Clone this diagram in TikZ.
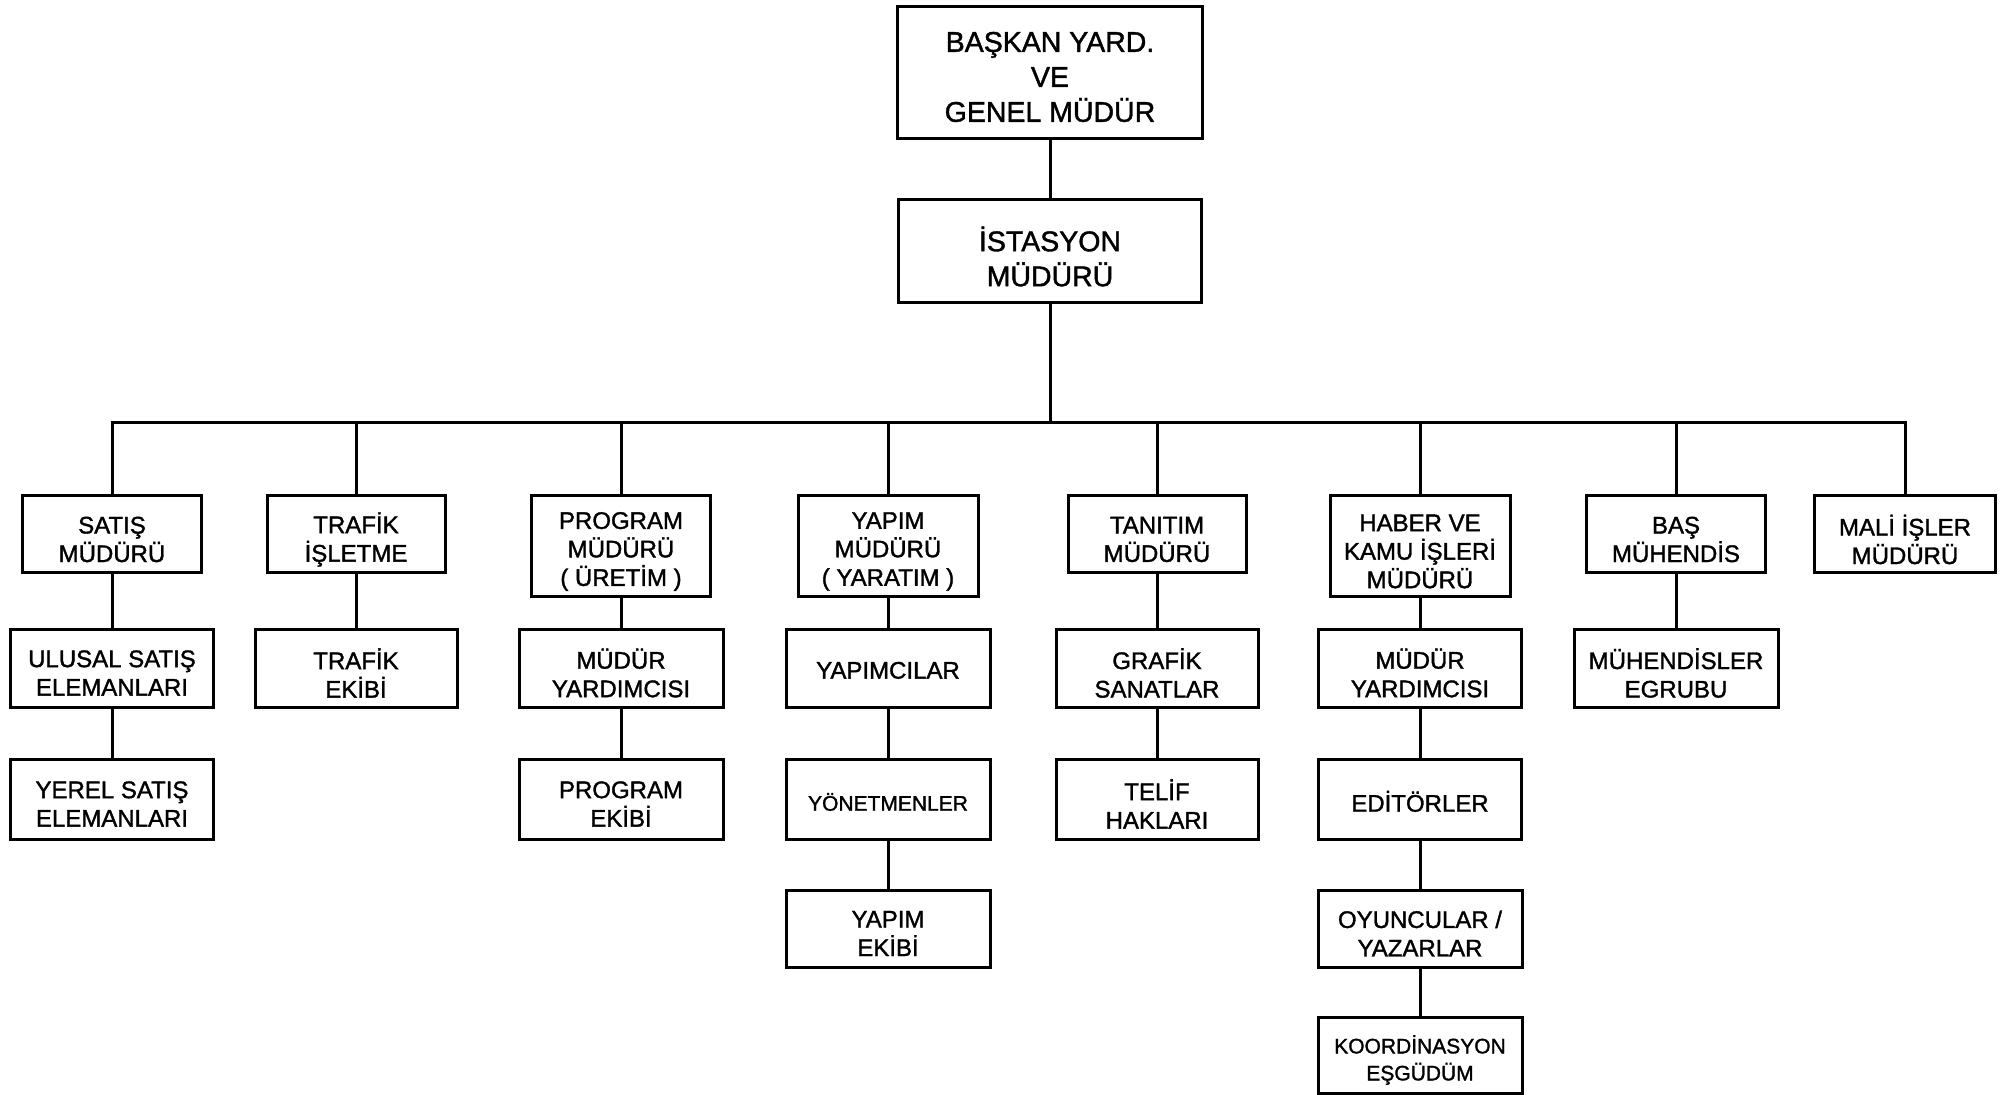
\documentclass[tikz,border=0pt]{standalone}
\usepackage{fontspec}
\setmainfont{Liberation Sans}[BoldFont={Liberation Sans}, BoldFeatures={FakeBold=1.4}]
\begin{document}
\begin{tikzpicture}[x=0.5pt,y=-0.5pt,
  box/.style={draw=black, line width=1.5pt, inner sep=0pt, fill=white},
  bw/.style={minimum width=#1*0.5pt},
  bh/.style={minimum height=#1*0.5pt},
  lbl/.style={align=center, inner sep=0pt, yshift=-2.5pt, font=\fontsize{12}{14.25}\selectfont\bfseries},
  onelbl/.style={align=center, inner sep=0pt, yshift=-1.2pt, font=\fontsize{12}{14.25}\selectfont\bfseries},
  smalllbl/.style={align=center, inner sep=0pt, yshift=-1.5pt, font=\fontsize{10.5}{13.5}\selectfont\bfseries},
  biglbl/.style={align=center, inner sep=0pt, yshift=-2pt, font=\fontsize{14.25}{17.5}\selectfont\bfseries},
  link/.style={line width=1.5pt, line cap=rect}]
\useasboundingbox[fill=white] (0,0) rectangle (2011,1095);

% top management
\node[box,bw=305,bh=132] (gm) at (1050,73) {};
\node[biglbl] (gm-t) at (gm) {BAŞKAN YARD.\\VE\\GENEL MÜDÜR};
\node[box,bw=303,bh=103] (ist) at (1050,251.5) {};
\node[biglbl,yshift=-0.5pt] (ist-t) at (ist) {İSTASYON\\MÜDÜRÜ};

% department heads
\node[box,bw=179,bh=77] (satis) at (112,534.5) {};
\node[lbl] (satis-t) at (satis) {SATIŞ\\MÜDÜRÜ};
\node[box,bw=178,bh=77] (trafik) at (356,534.5) {};
\node[lbl] (trafik-t) at (trafik) {TRAFİK\\İŞLETME};
\node[box,bw=179,bh=101] (program) at (621,546.5) {};
\node[lbl] (program-t) at (program) {PROGRAM\\MÜDÜRÜ\\( ÜRETİM )};
\node[box,bw=180,bh=101] (yapim) at (888,546.5) {};
\node[lbl] (yapim-t) at (yapim) {YAPIM\\MÜDÜRÜ\\( YARATIM )};
\node[box,bw=178,bh=77] (tanitim) at (1157,534.5) {};
\node[lbl] (tanitim-t) at (tanitim) {TANITIM\\MÜDÜRÜ};
\node[box,bw=180,bh=101] (haber) at (1420,546.5) {};
\node[lbl] (haber-t) at (haber) {HABER VE\\KAMU İŞLERİ\\MÜDÜRÜ};
\node[box,bw=179,bh=77] (bas) at (1676,534.5) {};
\node[lbl] (bas-t) at (bas) {BAŞ\\MÜHENDİS};
\node[box,bw=181,bh=77] (mali) at (1905,534.5) {};
\node[lbl] (mali-t) at (mali) {MALİ İŞLER\\MÜDÜRÜ};

% second row
\node[box,bw=203,bh=78] (ulusal) at (112,668) {};
\node[lbl] (ulusal-t) at (ulusal) {ULUSAL SATIŞ\\ELEMANLARI};
\node[box,bw=202,bh=78] (trafikekibi) at (356,668) {};
\node[lbl] (trafikekibi-t) at (trafikekibi) {TRAFİK\\EKİBİ};
\node[box,bw=204,bh=78] (myardA) at (621,668) {};
\node[lbl] (myardA-t) at (myardA) {MÜDÜR\\YARDIMCISI};
\node[box,bw=204,bh=78] (yapimcilar) at (888,668) {};
\node[onelbl] (yapimcilar-t) at (yapimcilar) {YAPIMCILAR};
\node[box,bw=202,bh=78] (grafik) at (1157,668) {};
\node[lbl] (grafik-t) at (grafik) {GRAFİK\\SANATLAR};
\node[box,bw=203,bh=78] (myardB) at (1420,668) {};
\node[lbl] (myardB-t) at (myardB) {MÜDÜR\\YARDIMCISI};
\node[box,bw=204,bh=78] (muh) at (1676,668) {};
\node[lbl] (muh-t) at (muh) {MÜHENDİSLER\\EGRUBU};

% third row
\node[box,bw=203,bh=80] (yerel) at (112,799) {};
\node[lbl] (yerel-t) at (yerel) {YEREL SATIŞ\\ELEMANLARI};
\node[box,bw=204,bh=80] (progekibi) at (621,799) {};
\node[lbl] (progekibi-t) at (progekibi) {PROGRAM\\EKİBİ};
\node[box,bw=204,bh=80] (yonetmen) at (888,799) {};
\node[smalllbl] (yonetmen-t) at (yonetmen) {YÖNETMENLER};
\node[box,bw=202,bh=80] (telif) at (1157,799) {};
\node[lbl] (telif-t) at (telif) {TELİF\\HAKLARI};
\node[box,bw=203,bh=80] (editor) at (1420,799) {};
\node[onelbl] (editor-t) at (editor) {EDİTÖRLER};

% fourth and fifth rows
\node[box,bw=204,bh=77] (yapimekibi) at (888,928.5) {};
\node[lbl] (yapimekibi-t) at (yapimekibi) {YAPIM\\EKİBİ};
\node[box,bw=204,bh=77] (oyuncu) at (1420,928.5) {};
\node[lbl] (oyuncu-t) at (oyuncu) {OYUNCULAR /\\YAZARLAR};
\node[box,bw=204,bh=76] (koord) at (1420,1055) {};
\node[smalllbl,yshift=-1pt] (koord-t) at (koord) {KOORDİNASYON\\EŞGÜDÜM};

% connectors
\coordinate (busL) at (112,423);
\coordinate (busR) at (1905,423);
\draw[link] (gm) -- (ist);
\draw[link] (ist.south) -- (ist.south |- busL);
\draw[link] (busL) -- (busR);
\foreach \n in {satis,trafik,program,yapim,tanitim,haber,bas,mali}
  \draw[link] (\n.north) -- (\n.north |- busL);
\draw[link] (satis) -- (ulusal) -- (yerel);
\draw[link] (trafik) -- (trafikekibi);
\draw[link] (program) -- (myardA) -- (progekibi);
\draw[link] (yapim) -- (yapimcilar) -- (yonetmen) -- (yapimekibi);
\draw[link] (tanitim) -- (grafik) -- (telif);
\draw[link] (haber) -- (myardB) -- (editor) -- (oyuncu) -- (koord);
\draw[link] (bas) -- (muh);
\end{tikzpicture}
\end{document}
